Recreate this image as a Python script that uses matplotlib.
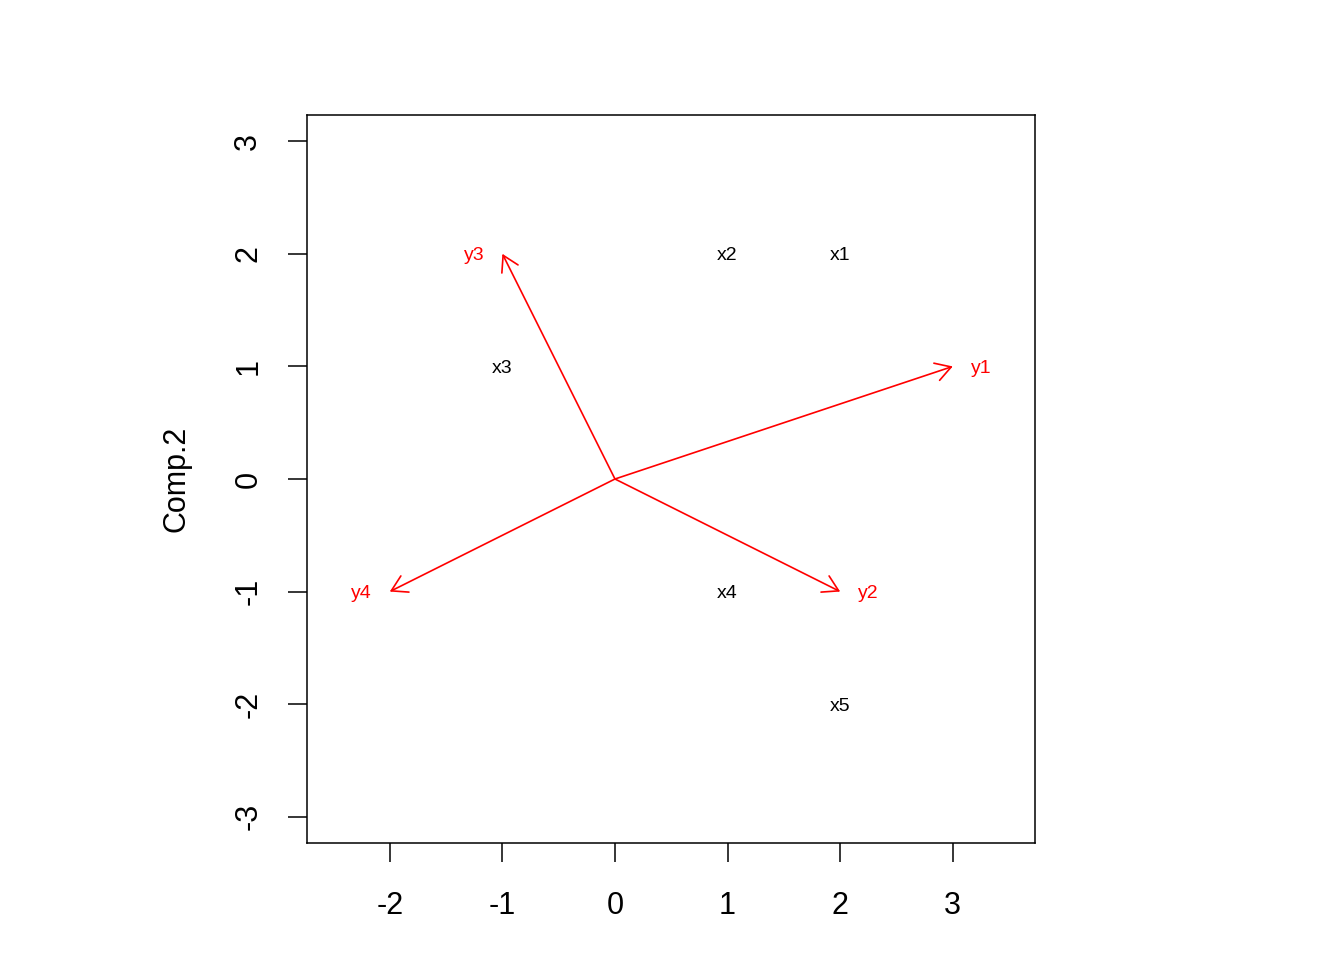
import numpy as np
import matplotlib
matplotlib.use("Agg")
import matplotlib.pyplot as plt

plt.rcParams['font.family'] = ['Liberation Sans', 'DejaVu Sans']
plt.rcParams['axes.unicode_minus'] = False

# scores (black labels)
obs_labels = ['x1', 'x2', 'x3', 'x4', 'x5']
obs_x = [2, 1, -1, 1, 2]
obs_y = [2, 2, 1, -1, -2]

# loadings (red arrows)
var_labels = ['y1', 'y2', 'y3', 'y4']
var_x = [3, 2, -1, -2]
var_y = [1, -1, 2, -1]

xticks = [-2, -1, 0, 1, 2, 3]
yticks = [-3, -2, -1, 0, 1, 2, 3]

fig = plt.figure(figsize=(13.44, 9.6), dpi=100)
ax = fig.add_axes([307/1344, 1-843/960, 728/1344, 728/960])

for lab, x, y in zip(obs_labels, obs_x, obs_y):
    ax.text(x, y, lab, ha='center', va='center_baseline', fontsize=14, color='black')

for lab, x, y in zip(var_labels, var_x, var_y):
    ax.annotate('', xy=(x, y), xytext=(0, 0),
                arrowprops=dict(arrowstyle='->,head_length=11,head_width=6.5',
                                mutation_scale=1, color='red', lw=1.2,
                                shrinkA=0, shrinkB=0))
    ax.text(x + np.sign(x)*0.25, y, lab, ha='center', va='center_baseline',
            fontsize=14, color='red')

ax.set_xticks(xticks)
ax.set_yticks(yticks)
ax.set_xlim(-2.735, 3.73)
ax.set_ylim(-3.233, 3.233)
ax.tick_params(axis='both', length=13.5, width=1.1, labelsize=22)
ax.tick_params(axis='x', pad=21)
ax.tick_params(axis='y', pad=18)
for t in ax.get_yticklabels():
    t.set_rotation(90)
    t.set_va('center')
ax.set_ylabel('Comp.2', fontsize=22, labelpad=30)
for s in ax.spines.values():
    s.set_linewidth(1.1)

fig.savefig('out.png', dpi=100)
